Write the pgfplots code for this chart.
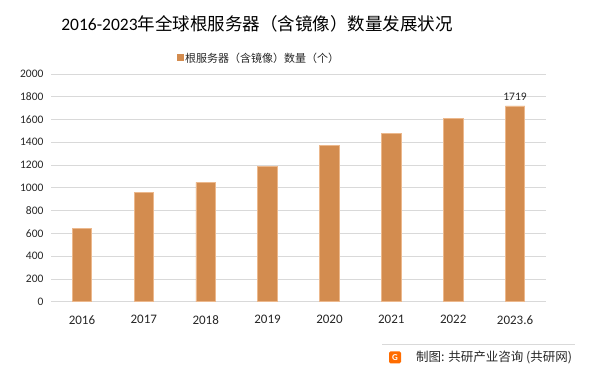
\documentclass[border=0pt]{standalone}
\usepackage{pgfplots}
\pgfplotsset{compat=1.18}
\usepackage{fontspec}
\setmainfont{Carlito}
\newfontfamily\cjk{Noto Sans CJK SC}
\definecolor{barc}{RGB}{211,140,79}
\definecolor{bare}{RGB}{236,184,140}
\definecolor{gridc}{RGB}{217,217,217}
\definecolor{txt}{RGB}{38,38,38}
\begin{document}
\begin{tikzpicture}
\path[use as bounding box] (0pt,0pt) rectangle (598pt,374pt);
\begin{axis}[
  at={(51pt,72.3pt)}, anchor=south west,
  scale only axis, width=495pt, height=227.7pt,
  xmin=-0.5, xmax=7.5, ymin=0, ymax=2000,
  ytick={0,200,...,2000},
  xtick={0,...,7},
  xticklabels={2016,2017,2018,2019,2020,2021,2022,2023.6},
  axis line style={draw=none},
  axis x line*=bottom,
  x axis line style={draw=gridc, line width=0.8pt},
  tick style={draw=none},
  ymajorgrids, grid style={gridc, line width=0.8pt},
  yticklabel style={font=\fontsize{11.5}{12}\selectfont, text=txt, xshift=-4pt},
  xticklabel style={font=\fontsize{13}{14}\selectfont, text=txt, yshift=-6pt},
  /pgf/number format/assume math mode=true,
  /pgf/number format/1000 sep={},
  ybar, bar width=19.5pt,
  clip=false,
]
\addplot[fill=barc, draw=bare, line width=0.8pt, bar shift=0pt] coordinates {
 (0,646) (1,960) (2,1047) (3,1188) (4,1374) (5,1479) (6,1606) (7,1719)};
\addplot[draw=none, fill=none, bar shift=0pt, nodes near coords,
  every node near coord/.append style={font=\fontsize{11.5}{12}\selectfont, text=txt, yshift=2pt},
  /pgf/number format/1000 sep={}] coordinates {(7,1719)};
\end{axis}
\node[anchor=base, text=black] at (257pt,343pt) {\fontsize{17.5}{20}\selectfont 2016-2023{\cjk 年全球根服务器（含镜像）数量发展状况}};
\fill[barc] (177pt,313pt) rectangle (183.5pt,319.5pt);
\node[anchor=west, text=txt, inner sep=0pt] at (185pt,316pt) {\cjk\fontsize{11}{12}\selectfont 根服务器（含镜像）数量（个）};
\draw[gridc, line width=0.6pt] (382pt,30pt) -- (575pt,30pt);
\fill[rounded corners=1.5pt, orange!85!red] (389pt,10.5pt) rectangle (401pt,22.5pt);
\node[text=white, inner sep=0pt, font=\bfseries\fontsize{9}{9}\selectfont] at (395pt,16.5pt) {G};
\node[anchor=west, inner sep=0pt, text=txt] at (416pt,16.8pt) {\cjk\fontsize{12.5}{13}\selectfont 制图: 共研产业咨询 (共研网)};
\end{tikzpicture}
\end{document}
